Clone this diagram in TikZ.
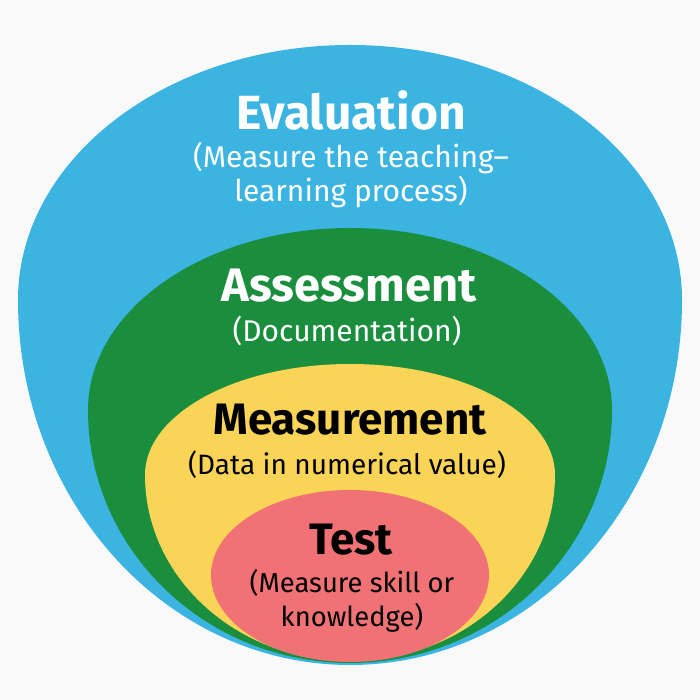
\documentclass[tikz,border=0pt]{standalone}
\usepackage{fontspec}
\setmainfont{Fira Sans}
\definecolor{bgc}{HTML}{F9F9F9}
\definecolor{evalblue}{HTML}{3BB4E2}
\definecolor{assgreen}{HTML}{1B8E3E}
\definecolor{measyellow}{HTML}{F9D456}
\definecolor{testred}{HTML}{F07274}
\begin{document}
\begin{tikzpicture}[x=0.5pt,y=0.5pt,
ttl/.style={anchor=base,inner sep=0pt,font=\fontsize{#1}{26}\selectfont\bfseries},
sub/.style={anchor=base,inner sep=0pt,align=center,font=\fontsize{#1}{17}\selectfont}]
\fill[bgc](0,0)rectangle(700,700);
\foreach \c/\x/\y/\rx/\rt/\rb in {evalblue/18/400/332/255/365,assgreen/88/290/262/182/253,measyellow/145/225/205/111/186,testred/211/125/139/85/87}
\fill[\c](\x,\y)arc[start angle=180,end angle=0,x radius=\rx,y radius=\rt]arc[start angle=0,end angle=-180,x radius=\rx,y radius=\rb]--cycle;
\node[ttl=24,white](eval)at(351,570){Evaluation};
\node[sub=15,white](evalsub)at(351,498){(Measure the teaching–\\learning process)};
\node[ttl=23.5,white](ass)at(349,398){Assessment};
\node[sub=15,white](asssub)at(347,358){(Documentation)};
\node[ttl=22](meas)at(350,265){Measurement};
\node[sub=14](meassub)at(347,225){(Data in numerical value)};
\node[ttl=22](test)at(351,145){Test};
\node[sub=13.7](testsub)at(352,73){(Measure skill or\\knowledge)};
\end{tikzpicture}
\end{document}
